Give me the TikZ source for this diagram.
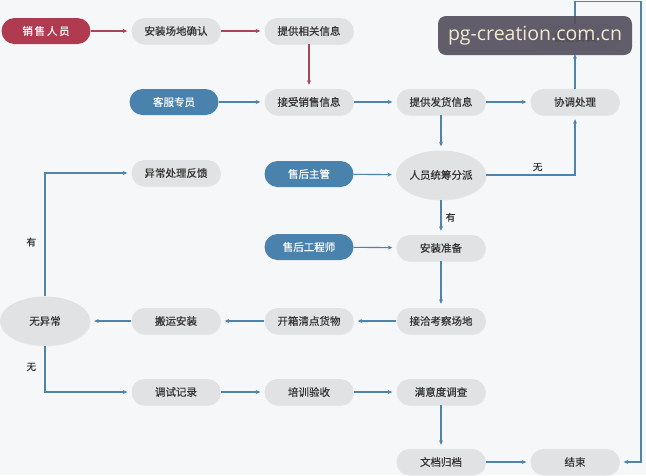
\documentclass[tikz,border=0pt]{standalone}
\usepackage{fontspec}
\setmainfont[FakeBold=0.4]{Noto Sans CJK SC}
\newfontfamily\wmfont{Open Sans}
\usetikzlibrary{shapes.geometric,arrows.meta,shadows}
\definecolor{bg}{HTML}{F5F7F9}
\definecolor{redc}{HTML}{B03A50}
\definecolor{bluec}{HTML}{4A82AE}
\definecolor{grayc}{HTML}{E1E2E3}
\definecolor{txt}{HTML}{333333}
\definecolor{linec}{HTML}{4F83AA}
\definecolor{redl}{HTML}{A84558}
\definecolor{wmbg}{HTML}{524D5B}
\definecolor{wmtx}{HTML}{F3EACF}
\begin{document}
\begin{tikzpicture}[x=1pt,y=-1pt,
  pill/.style={rectangle, rounded corners=13pt, minimum width=89pt, minimum height=26pt, inner sep=0pt,
    font=\fontsize{10.5}{12}\selectfont, text=txt},
  gbox/.style={pill, fill=grayc, drop shadow={opacity=0.12, shadow xshift=0.6pt, shadow yshift=-1pt}},
  rbox/.style={pill, fill=redc, text=white},
  bbox/.style={pill, fill=bluec, text=white},
  oval/.style={ellipse, fill=grayc, minimum width=90pt, minimum height=49pt, inner sep=0pt,
    font=\fontsize{10.5}{12}\selectfont, text=txt, drop shadow={opacity=0.12, shadow xshift=0.6pt, shadow yshift=-1pt}},
  conn/.style={draw=linec, line width=1.1pt, -{Stealth[length=4.5pt,width=4pt]}, shorten >=4pt},
  rconn/.style={conn, draw=redl},
  lab/.style={font=\fontsize{9.5}{11}\selectfont, text=txt}
]
\fill[bg] (0,0) rectangle (646,475);
\useasboundingbox (0,0) rectangle (646,475);

% row 1
\node[rbox] (xs) at (46,31) {销\,售\,人\,员};
\node[gbox] (az) at (176,31) {安装场地确认};
\node[gbox] (tx) at (309,31) {提供相关信息};
\node[gbox] (sb) at (575,37) {设备安装};
% row 2
\node[bbox] (kf) at (174,102) {客服专员};
\node[gbox] (js) at (309,102) {接受销售信息};
\node[gbox] (fh) at (441,102) {提供发货信息};
\node[gbox] (xt) at (575,102) {协调处理};
% row 3
\node[gbox] (yc) at (176,173) {异常处理反馈};
\node[bbox] (zg) at (309,174) {售后主管};
\node[oval] (pf) at (441,175) {人员统筹分派};
% row 4
\node[bbox] (gc) at (309,247) {售后工程师};
\node[gbox] (zb) at (441,248) {安装准备};
% row 5
\node[oval] (wy) at (45,321) {无异常};
\node[gbox] (by) at (176,321) {搬运安装};
\node[gbox] (kx) at (309,321) {开箱清点货物};
\node[gbox] (jq) at (441,321) {接洽考察场地};
% row 6
\node[gbox] (ts) at (176,392) {调试记录};
\node[gbox] (px) at (309,392) {培训验收};
\node[gbox] (my) at (441,392) {满意度调查};
% row 7
\node[gbox] (wd) at (441,462) {文档归档};
\node[gbox] (js2) at (575,462) {结束};

\coordinate (c2) at (641,1.5);

% red connectors
\draw[rconn] (xs) -- (az);
\draw[rconn] (az) -- (tx);
\draw[rconn] (tx) -- (js);
% blue connectors
\draw[conn] (kf) -- (js);
\draw[conn] (js) -- (fh);
\draw[conn] (fh) -- (xt);
\draw[conn] (xt) -- (sb);
\draw[conn] (fh) -- (pf);
\draw[conn] (pf.east) -| node[lab, pos=0.29, above=0pt] {无} (xt.south);
\draw[conn] (zg) -- (pf);
\draw[conn] (pf) -- node[lab, right=1pt] {有} (zb);
\draw[conn] (gc) -- (zb);
\draw[conn] (zb) -- (jq);
\draw[conn] (jq) -- (kx);
\draw[conn] (kx) -- (by);
\draw[conn] (by) -- (wy);
\draw[conn] (wy.north) |- node[lab, pos=0.22, left=5pt] {有} (yc.west);
\draw[conn] (wy.south) |- node[lab, pos=0.23, left=5pt] {无} (ts.west);
\draw[conn] (ts) -- (px);
\draw[conn] (px) -- (my);
\draw[conn] (my) -- (wd);
\draw[conn] (wd) -- (js2);
\draw[conn] (sb.north) |- (c2) |- (js2.east);

% watermark
\node[fill=wmbg, fill opacity=0.9, text opacity=1, text=wmtx, rounded corners=8pt,
  minimum width=194pt, minimum height=39pt, inner sep=0pt,
  font=\wmfont\fontsize{19.5}{22}\selectfont] (wm) at (535,35.5) {pg-creation.com.cn};
\end{tikzpicture}
\end{document}
